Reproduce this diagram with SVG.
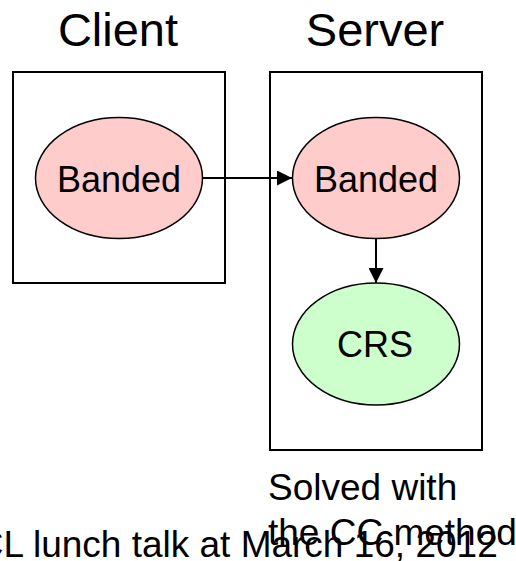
<svg xmlns="http://www.w3.org/2000/svg" width="516" height="561" viewBox="0 0 516 561">
  <style>
    text { font-family: "Liberation Sans", Arial, sans-serif; fill: #000; }
    .title { font-size: 47px; text-anchor: middle; }
    .label { font-size: 36px; text-anchor: middle; }
    .note { font-size: 37px; }
    .box { fill: none; stroke: #000; stroke-width: 2; }
    .node { stroke: #000; stroke-width: 1.5; }
    .banded { fill: #FFCCCC; }
    .crs { fill: #CCFFCC; }
    .edge { stroke: #000; stroke-width: 2; fill: none; }
  </style>
  <defs>
    <marker id="arrow" viewBox="0 0 10 10" refX="10" refY="5" markerWidth="7.5" markerHeight="7.5" markerUnits="strokeWidth" orient="auto">
      <path d="M0,0 L10,5 L0,10 Z" fill="#000"/>
    </marker>
  </defs>
  <rect width="516" height="561" fill="#fff"/>

  <!-- containers -->
  <g id="client">
    <rect class="box" x="13" y="72" width="212" height="211"/>
    <text class="title" x="118" y="46">Client</text>
  </g>
  <g id="server">
    <rect class="box" x="270" y="72" width="212" height="378"/>
    <text class="title" x="375" y="46">Server</text>
  </g>

  <!-- nodes -->
  <g id="client-banded">
    <ellipse class="node banded" cx="119" cy="178" rx="83.5" ry="60.5"/>
    <text class="label" x="119" y="192">Banded</text>
  </g>
  <g id="server-banded">
    <ellipse class="node banded" cx="376" cy="178" rx="83.5" ry="60.5"/>
    <text class="label" x="376" y="192">Banded</text>
  </g>
  <g id="crs">
    <ellipse class="node crs" cx="376" cy="344" rx="83.5" ry="61"/>
    <text class="label" x="375" y="357">CRS</text>
  </g>

  <!-- connectors -->
  <g id="connectors">
    <line class="edge" x1="203" y1="178" x2="292" y2="178" marker-end="url(#arrow)"/>
    <line class="edge" x1="376" y1="239" x2="376" y2="283" marker-end="url(#arrow)"/>
  </g>

  <!-- captions -->
  <g id="captions">
    <text class="note" x="268" y="500">Solved with</text>
    <text class="note" x="268" y="545">the CC method</text>
    <text class="note" x="-23.3" y="557">CL lunch talk at March 16, 2012</text>
  </g>
</svg>
